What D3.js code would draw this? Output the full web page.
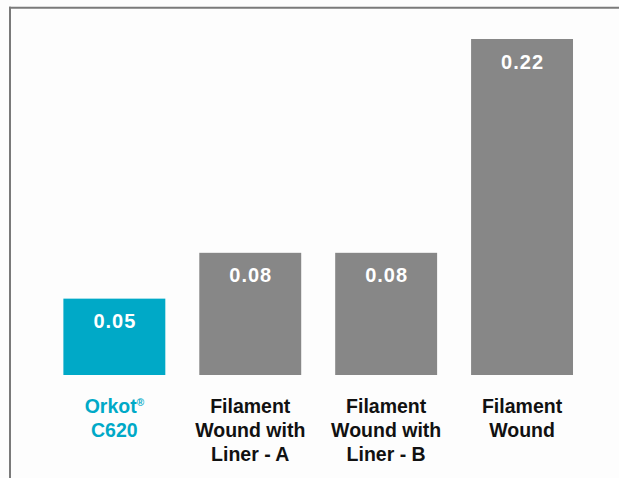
<!DOCTYPE html>
<html><head><meta charset="utf-8">
<script src="https://cdn.jsdelivr.net/npm/d3@7"></script>
<style>html,body{margin:0;padding:0;background:#fdfdfd;}svg{display:block;}</style>
</head><body>
<script>
const categories = ["Orkot C620", "Filament Wound with Liner - A", "Filament Wound with Liner - B", "Filament Wound"];
const labelLines = [["Orkot", "C620"], ["Filament", "Wound with", "Liner - A"], ["Filament", "Wound with", "Liner - B"], ["Filament", "Wound"]];
const values = [0.05, 0.08, 0.08, 0.22];
const valueLabels = ["0.05", "0.08", "0.08", "0.22"];
const highlight = [true, false, false, false];

const W = 619, H = 478;
const svg = d3.select("body").append("svg").attr("width", W).attr("height", H);
const FONT = "Liberation Sans, Arial, Helvetica, sans-serif";

// frame lines (top and left)
svg.append("line").attr("x1", 9).attr("x2", W).attr("y1", 7.7).attr("y2", 7.7).attr("stroke", "#7a7a7a").attr("stroke-width", 2);
svg.append("line").attr("x1", 10).attr("x2", 10).attr("y1", 6.7).attr("y2", H).attr("stroke", "#7a7a7a").attr("stroke-width", 2);

const x = d3.scaleBand().domain(categories).range([46.4, 590]).paddingInner(0.25).paddingOuter(0.125);
const y = d3.scaleLinear().domain([0, 0.22]).range([375, 39]);

const teal = "#00a9c7", gray = "#878787";

const g = svg.append("g");
g.selectAll("rect").data(categories).join("rect")
  .attr("x", d => x(d)).attr("width", x.bandwidth())
  .attr("y", (d, i) => y(values[i])).attr("height", (d, i) => y(0) - y(values[i]))
  .attr("fill", (d, i) => highlight[i] ? teal : gray);

g.selectAll("text.val").data(categories).join("text").attr("class", "val")
  .attr("x", d => x(d) + x.bandwidth() / 2 + 0.5)
  .attr("y", (d, i) => y(values[i]) + 29.5)
  .attr("text-anchor", "middle")
  .attr("font-family", FONT).attr("font-weight", "bold")
  .attr("font-size", 20).attr("letter-spacing", 1).attr("fill", "#fff")
  .text((d, i) => valueLabels[i]);

categories.forEach((c, i) => {
  const cx = x(c) + x.bandwidth() / 2;
  labelLines[i].forEach((ln, j) => {
    const t = g.append("text")
      .attr("x", cx).attr("y", 413 + 24 * j)
      .attr("text-anchor", "middle")
      .attr("font-family", FONT).attr("font-weight", "bold")
      .attr("font-size", 19.5).attr("fill", highlight[i] ? teal : "#111");
    t.append("tspan").text(ln);
    if (highlight[i] && j === 0) {
      t.append("tspan").attr("font-size", 10).attr("dy", -7).text("®");
    }
  });
});
</script>
</body></html>
